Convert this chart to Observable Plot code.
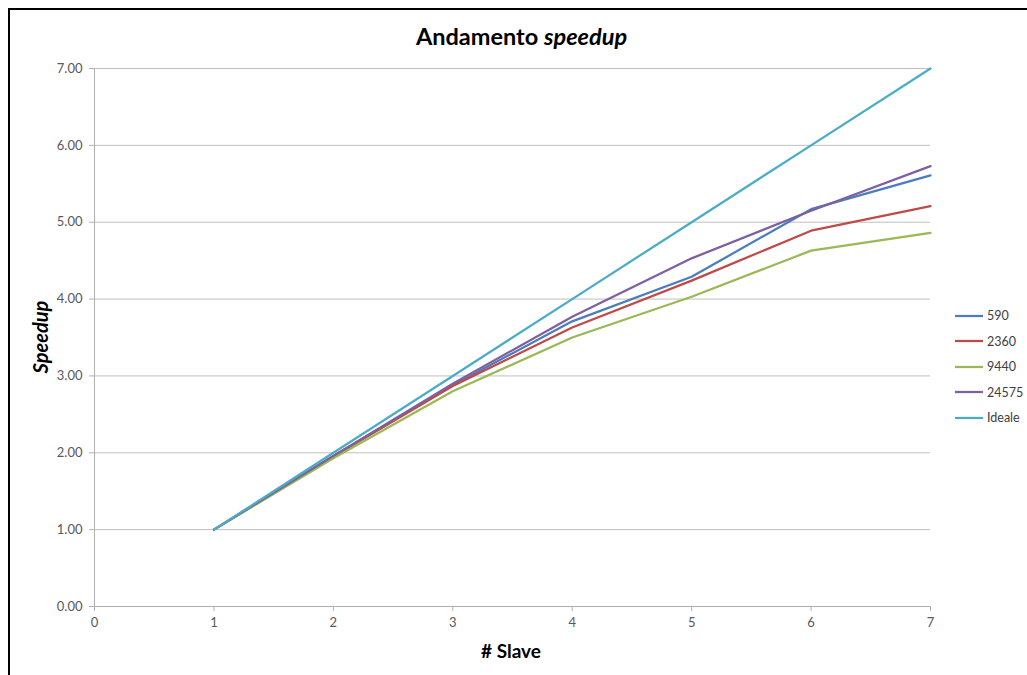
<!DOCTYPE html>
<html>
<head>
<meta charset="utf-8">
<script src="https://cdn.jsdelivr.net/npm/d3@7"></script>
<script src="https://cdn.jsdelivr.net/npm/@observablehq/plot@0.6"></script>
<style>
  html, body { margin: 0; padding: 0; background: #fff; }
  #wrap { position: relative; width: 1027px; height: 675px; overflow: hidden; font-family: Lato, "Open Sans", sans-serif; }
  #frame { position: absolute; left: 8px; top: 8px; right: -4px; bottom: -4px; border-left: 2px solid #000; border-top: 2px solid #000; }
  #chart { position: absolute; left: 0; top: 0; }
  .title { position: absolute; left: 0; width: 1043px; top: 22px; text-align: center; font-size: 23.5px; font-weight: bold; color: #000; }
  .ytitle { position: absolute; left: 40px; top: 337px; transform: translate(-50%, -50%) rotate(-90deg); font-size: 20px; font-weight: bold; font-style: italic; white-space: nowrap; }
  .xtitle { position: absolute; left: 511px; top: 650px; transform: translate(-50%, -50%); font-size: 19px; font-weight: bold; white-space: nowrap; }
  #legend { position: absolute; left: 955px; top: 303px; font-size: 12.5px; color: #404040; }
  #legend .item { display: flex; align-items: center; height: 25.5px; }
  #legend svg { margin-right: 4px; }
</style>
</head>
<body>
<div id="wrap">
  <div id="frame"></div>
  <div id="chart"></div>
  <div class="title">Andamento <i>speedup</i></div>
  <div class="ytitle">Speedup</div>
  <div class="xtitle"># Slave</div>
  <div id="legend"></div>
</div>
<script>
// Number of slaves on the x axis
const slaves = [1, 2, 3, 4, 5, 6, 7];
// Measured speedup per problem size
const s590   = [1.00, 1.96, 2.88, 3.71, 4.29, 5.17, 5.61];
const s2360  = [1.00, 1.95, 2.87, 3.63, 4.24, 4.89, 5.21];
const s9440  = [1.00, 1.93, 2.80, 3.50, 4.03, 4.63, 4.86];
const s24575 = [1.00, 1.96, 2.90, 3.77, 4.53, 5.15, 5.73];
const ideale = [1.00, 2.00, 3.00, 4.00, 5.00, 6.00, 7.00];

const seriesNames = ["590", "2360", "9440", "24575", "Ideale"];
const seriesValues = [s590, s2360, s9440, s24575, ideale];
const seriesColors = ["#4A7EBB", "#BE4B48", "#98B954", "#7D60A0", "#4BACC6"];

const xTicks = [0, 1, 2, 3, 4, 5, 6, 7];
const yTicks = [0, 1, 2, 3, 4, 5, 6, 7];

const rows = seriesNames.flatMap((name, i) =>
  slaves.map((s, j) => ({ serie: name, slave: s, speedup: seriesValues[i][j] }))
);

const chart = Plot.plot({
  width: 1027,
  height: 675,
  marginLeft: 94,
  marginRight: 97,
  marginTop: 68,
  marginBottom: 69,
  style: { fontFamily: "Lato, 'Open Sans', sans-serif", fontSize: "13px", background: "transparent" },
  x: { domain: [0, 7] },
  y: { domain: [0, 7] },
  color: { domain: seriesNames, range: seriesColors },
  marks: [
    Plot.gridY(yTicks, { stroke: "#bfbfbf", strokeOpacity: 1, strokeWidth: 1 }),
    Plot.ruleX([0], { stroke: "#b0b0b0" }),
    Plot.ruleY([0], { stroke: "#b0b0b0" }),
    Plot.axisY(yTicks, { tickFormat: d3.format(".2f"), tickSize: 5, tickPadding: 7, stroke: "#b0b0b0", fill: "#595959", label: null }),
    Plot.axisX(xTicks, { tickFormat: d3.format("d"), tickSize: 5, tickPadding: 6, stroke: "#b0b0b0", fill: "#595959", label: null }),
    Plot.line(rows, { x: "slave", y: "speedup", z: "serie", stroke: "serie", strokeWidth: 2.25 })
  ]
});
document.getElementById("chart").appendChild(chart);

// Legend with line swatches
const legend = document.getElementById("legend");
seriesNames.forEach((name, i) => {
  const item = document.createElement("div");
  item.className = "item";
  item.innerHTML = `<svg width="28" height="6"><line x1="0" y1="3" x2="28" y2="3" stroke="${seriesColors[i]}" stroke-width="2.25"/></svg><span>${name}</span>`;
  legend.appendChild(item);
});
</script>
</body>
</html>
